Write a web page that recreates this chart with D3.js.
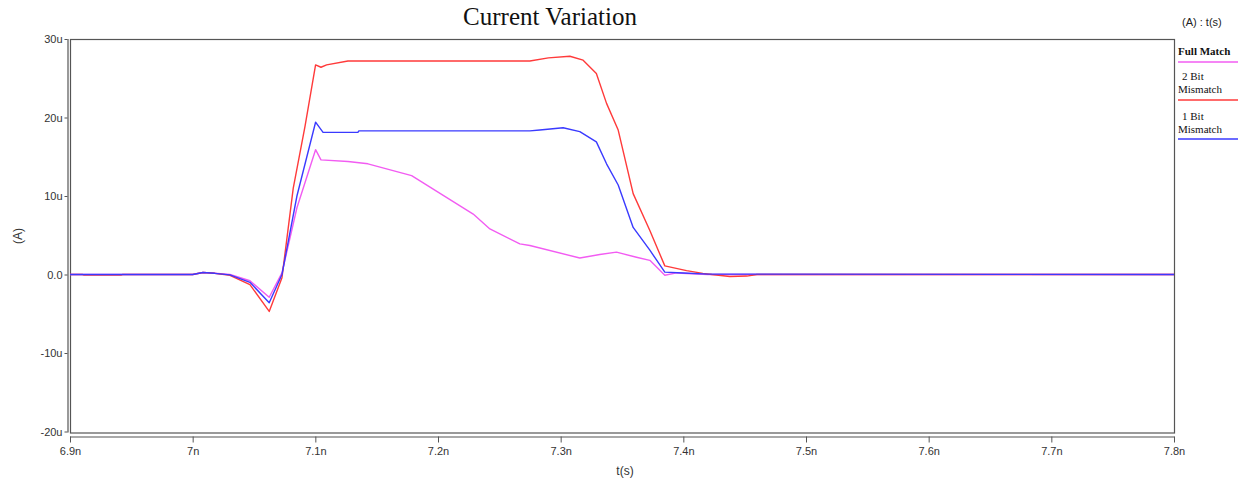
<!DOCTYPE html>
<html>
<head>
<meta charset="utf-8">
<script src="https://cdn.jsdelivr.net/npm/d3@7"></script>
<style>
  html, body { margin: 0; padding: 0; background: #fff; }
  svg { display: block; }
</style>
</head>
<body>
<svg id="chart" width="1238" height="480"></svg>
<script>
// ---- data (time in ns, current in uA) ----
const xTicks = [6.9, 7.0, 7.1, 7.2, 7.3, 7.4, 7.5, 7.6, 7.7, 7.8];
const xTickLabels = ["6.9n", "7n", "7.1n", "7.2n", "7.3n", "7.4n", "7.5n", "7.6n", "7.7n", "7.8n"];
const yTicks = [-20, -10, 0, 10, 20, 30];
const yTickLabels = ["-20u", "-10u", "0.0", "10u", "20u", "30u"];

const seriesNames = ["Full Match", "2 Bit Mismatch", "1 Bit Mismatch"];

const tFull = [6.9, 7.0, 7.0084, 7.018, 7.0304, 7.0467, 7.0624, 7.0728, 7.085, 7.1002, 7.1046, 7.1266, 7.1429, 7.1785, 7.2287, 7.2423, 7.2667, 7.2749, 7.3156, 7.3319, 7.3455, 7.3618, 7.3727, 7.3849, 7.3945, 7.42, 7.8];
const iFull = [0, 0, 0.25, 0.15, 0, -0.8, -2.9, 0.2, 8.5, 15.9, 14.6, 14.4, 14.1, 12.6, 7.7, 5.8, 3.9, 3.7, 2.1, 2.55, 2.85, 2.2, 1.8, -0.1, 0.2, 0, 0];

const tTwoBit = [6.9, 6.91, 6.911, 6.942, 6.943, 7.0, 7.0084, 7.018, 7.0304, 7.0467, 7.0624, 7.0728, 7.082, 7.0915, 7.1002, 7.1046, 7.1092, 7.1266, 7.2749, 7.29, 7.3075, 7.3183, 7.3291, 7.3374, 7.3469, 7.3591, 7.3727, 7.3849, 7.4026, 7.4159, 7.4232, 7.4379, 7.4517, 7.46, 7.8];
const iTwoBit = [0, 0, -0.06, -0.06, 0, 0, 0.25, 0.15, -0.1, -1.3, -4.7, -0.4, 11.0, 18.8, 26.7, 26.4, 26.7, 27.2, 27.2, 27.6, 27.8, 27.3, 25.6, 21.8, 18.4, 10.3, 5.6, 1.1, 0.5, 0.15, 0, -0.25, -0.2, 0, 0];

const tOneBit = [6.9, 7.0, 7.0084, 7.018, 7.0304, 7.0467, 7.0624, 7.0728, 7.085, 7.1002, 7.1063, 7.1347, 7.1355, 7.2749, 7.283, 7.302, 7.3156, 7.3291, 7.3374, 7.3469, 7.3591, 7.3727, 7.3849, 7.4, 7.42, 7.8];
const iOneBit = [0, 0, 0.25, 0.15, -0.05, -1.0, -3.6, 0, 10.0, 19.4, 18.1, 18.1, 18.3, 18.3, 18.4, 18.7, 18.2, 16.9, 14.1, 11.4, 6.0, 3.1, 0.3, 0.2, 0.05, 0];

// ---- layout ----
const svg = d3.select("#chart");
const pLeft = 70, pRight = 1174, pTop = 39, pBottom = 431.5;

const x = d3.scaleLinear().domain([6.9, 7.8]).range([pLeft, pRight]);
const y = d3.scaleLinear().domain([-20, 30]).range([pBottom, pTop]);

const colors = { full: "#f25cf2", two: "#ff3a3a", one: "#3a3aff" };

// plot box
svg.append("rect")
  .attr("x", pLeft + 0.5).attr("y", pTop + 0.5)
  .attr("width", pRight - pLeft).attr("height", pBottom - pTop + 1)
  .attr("fill", "none").attr("stroke", "#555").attr("stroke-width", 1.2);

// y axis (offset line to the left)
const yAxis = d3.axisLeft(y).tickValues(yTicks)
  .tickFormat((d, i) => yTickLabels[i]).tickSize(3).tickPadding(2);
const gy = svg.append("g").attr("transform", "translate(67.5,0)").call(yAxis);
gy.select(".domain").attr("stroke", "#555").attr("stroke-width", 1.2)
  .attr("d", `M0.5,${pTop}V${pBottom + 1}`);
gy.selectAll(".tick line").attr("stroke", "#555");
gy.selectAll("text").attr("font-family", "Liberation Sans, Arial, sans-serif")
  .attr("font-size", 11).attr("fill", "#333");

// x axis (offset line below)
const xAxis = d3.axisBottom(x).tickValues(xTicks)
  .tickFormat((d, i) => xTickLabels[i]).tickSize(6).tickPadding(5);
const gx = svg.append("g").attr("transform", "translate(0,436.5)").call(xAxis);
gx.select(".domain").attr("stroke", "#555").attr("stroke-width", 1.2)
  .attr("d", `M${pLeft},0.5H${pRight + 0.5}`);
gx.selectAll(".tick line").attr("stroke", "#555");
gx.selectAll("text").attr("font-family", "Liberation Sans, Arial, sans-serif")
  .attr("font-size", 11).attr("fill", "#333");

// series
const line = d3.line().x(d => x(d[0])).y(d => y(d[1]));
const series = [
  { t: tFull, v: iFull, c: colors.full },
  { t: tTwoBit, v: iTwoBit, c: colors.two },
  { t: tOneBit, v: iOneBit, c: colors.one }
];
series.forEach(s => {
  svg.append("path")
    .datum(s.t.map((t, i) => [t, s.v[i]]))
    .attr("d", line)
    .attr("fill", "none")
    .attr("stroke", s.c)
    .attr("stroke-width", 1.4)
    .attr("stroke-linejoin", "round");
});

// title
svg.append("text").attr("x", 550).attr("y", 25)
  .attr("text-anchor", "middle")
  .attr("font-family", "Liberation Serif, Times New Roman, serif")
  .attr("font-size", 25).attr("fill", "#111")
  .text("Current Variation");

// axis titles
svg.append("text").attr("x", 625).attr("y", 475)
  .attr("text-anchor", "middle")
  .attr("font-family", "Liberation Sans, Arial, sans-serif")
  .attr("font-size", 12).attr("fill", "#333").text("t(s)");
svg.append("text")
  .attr("transform", "translate(22,236) rotate(-90)")
  .attr("text-anchor", "middle")
  .attr("font-family", "Liberation Sans, Arial, sans-serif")
  .attr("font-size", 12).attr("fill", "#333").text("(A)");

// legend
svg.append("text").attr("x", 1182).attr("y", 26)
  .attr("font-family", "Liberation Sans, Arial, sans-serif")
  .attr("font-size", 11).attr("fill", "#222").text("(A) : t(s)");

const legendItems = [
  { lines: ["Full Match"], c: colors.full, y0: 55, ly: 62 },
  { lines: ["2 Bit", "Mismatch"], c: colors.two, y0: 80, ly: 100 },
  { lines: ["1 Bit", "Mismatch"], c: colors.one, y0: 120, ly: 139 }
];
legendItems.forEach((it, k) => {
  it.lines.forEach((txt, j) => {
    svg.append("text")
      .attr("x", j === 0 && it.lines.length > 1 ? 1182 : 1178)
      .attr("y", it.y0 + j * 13)
      .attr("font-family", "Liberation Serif, Times New Roman, serif")
      .attr("font-size", 11).attr("fill", "#111")
      .attr("font-weight", k === 0 ? "bold" : "normal")
      .text(txt);
  });
  svg.append("line")
    .attr("x1", 1178).attr("x2", 1238)
    .attr("y1", it.ly).attr("y2", it.ly)
    .attr("stroke", it.c).attr("stroke-width", 1.4);
});
</script>
</body>
</html>
